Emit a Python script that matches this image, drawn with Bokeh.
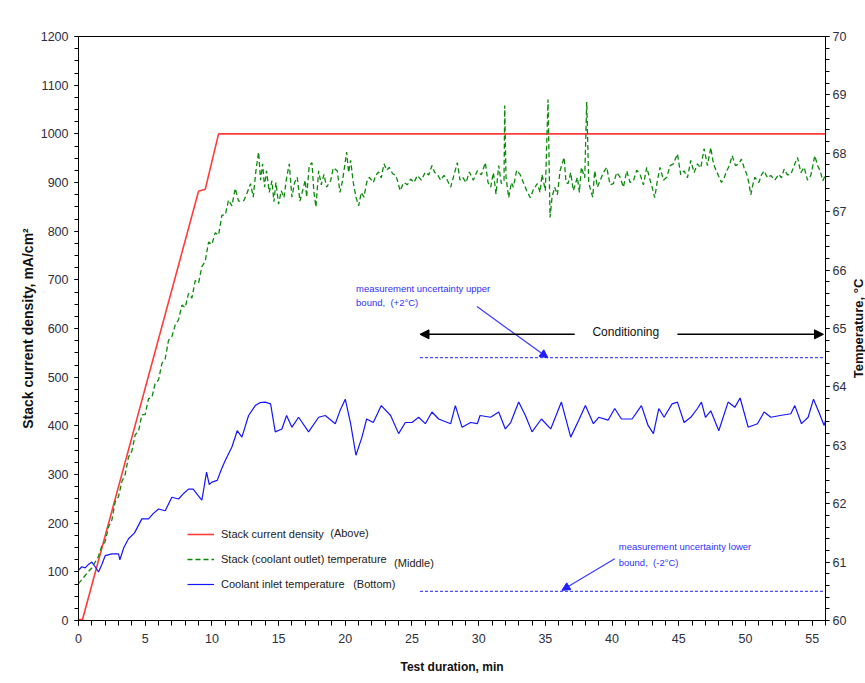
from bokeh.plotting import figure
from bokeh.layouts import row
from bokeh.models import (Range1d, LinearAxis, SingleIntervalTicker, FixedTicker, Label, Arrow,
                          NormalHead, Legend, LegendItem)
from bokeh.embed import file_html
from bokeh.resources import INLINE

SANS = "Liberation Sans"

# ---- data ----
# Stack current density (mA/cm2), left axis
current_t = [0, 0.3, 9.0, 9.5, 10.5, 56]
current_v = [2, 2, 882, 886, 1000, 1000]

# Stack (coolant outlet) temperature (degC), right axis
outlet_t = [0, 0.25, 0.5, 0.75, 1.0, 1.25, 1.5, 1.75, 2.0, 2.25, 2.5, 2.75, 3.0, 3.25, 3.5, 3.75,
            4.0, 4.25, 4.5, 4.75, 5.0, 5.25, 5.5, 5.75, 6.0, 6.25, 6.5, 6.75, 7.0, 7.25, 7.5, 7.75,
            8.0, 8.25, 8.5, 8.75, 9.0, 9.25, 9.5, 9.75, 10.0, 10.25, 10.5, 10.75, 11.0, 11.25, 11.5,
            11.75, 12.0,
            12.4, 12.65, 12.9, 13.1, 13.3, 13.5, 13.65, 13.8, 13.95, 14.1, 14.3, 14.5, 14.65, 14.8,
            15.0, 15.2, 15.4, 15.6, 15.8, 16.0, 16.2, 16.4, 16.6, 16.8, 17.0, 17.1, 17.3, 17.5,
            17.65, 17.8, 18.0, 18.2, 18.4, 18.6, 18.9, 19.1, 19.4, 19.6, 19.8, 20.1, 20.25, 20.4,
            20.6, 20.8, 21.0, 21.2, 21.4, 21.6, 21.8, 22.1, 22.3, 22.5, 22.7, 22.9, 23.1, 23.3,
            23.55, 23.8, 24.0, 24.1, 24.4, 24.65, 24.9, 25.15, 25.4, 25.7, 26.0, 26.25, 26.5, 26.7,
            26.9, 27.15, 27.4, 27.65, 27.9, 28.15, 28.4, 28.6, 28.8, 29.05, 29.3, 29.6, 29.9, 30.2,
            30.5, 30.7, 30.9, 31.1, 31.3, 31.5, 31.7, 31.9, 31.95, 32.05, 32.25, 32.45, 32.6, 32.85,
            33.1, 33.35, 33.6, 33.87, 34.1, 34.4, 34.6, 34.75, 35.0, 35.2, 35.35, 35.5, 35.7, 35.9,
            36.1, 36.4, 36.55, 36.7, 36.9, 37.1, 37.4, 37.55, 37.7, 37.95, 38.1, 38.25, 38.4, 38.55,
            38.7, 38.9, 39.1, 39.35, 39.6, 39.85, 40.1, 40.35, 40.6, 40.85, 41.1, 41.35, 41.6, 41.85,
            42.1, 42.35, 42.6, 42.85, 43.0, 43.2, 43.4, 43.6, 43.85, 44.1, 44.35, 44.6, 44.9, 45.15,
            45.4, 45.65, 45.9, 46.15, 46.4, 46.65, 46.9, 47.15, 47.4, 47.55, 47.7, 47.95, 48.2, 48.4,
            48.6, 48.8, 49.0, 49.25, 49.5, 49.7, 49.9, 50.1, 50.25, 50.4, 50.55, 50.7, 51.0, 51.2,
            51.4, 51.65, 51.9, 52.2, 52.5, 52.7, 52.9, 53.15, 53.4, 53.65, 53.9, 54.15, 54.4, 54.65,
            54.9, 55.2, 55.4, 55.6, 55.8, 56.0]
outlet_v = [60.63, 60.70, 60.77, 60.84, 60.90, 61.00, 61.10, 61.28, 61.35, 61.60, 61.72, 62.03,
            62.12, 62.38, 62.50, 62.80, 62.90, 63.18, 63.24, 63.52, 63.53, 63.80, 63.82, 64.06,
            64.12, 64.40, 64.48, 64.80, 64.86, 65.06, 65.15, 65.40, 65.36, 65.60, 65.52, 65.82,
            65.78, 66.06, 66.15, 66.48, 66.44, 66.64, 66.60, 66.94, 66.94, 67.20, 67.10, 67.40,
            67.18,
            67.19, 67.33, 67.48, 67.25, 67.70, 68.02, 67.54, 67.82, 67.42, 67.70, 67.33, 67.53,
            67.17, 67.50, 67.13, 67.36, 67.24, 67.58, 67.82, 67.25, 67.50, 67.59, 67.18, 67.36,
            67.54, 67.25, 67.79, 67.84, 67.33, 67.08, 67.70, 67.46, 67.64, 67.42, 67.53, 67.75,
            67.70, 67.33, 67.54, 68.02, 67.67, 67.88, 67.50, 67.25, 67.10, 67.33, 67.25, 67.50,
            67.59, 67.50, 67.63, 67.68, 67.58, 67.82, 67.71, 67.76, 67.65, 67.62, 67.46, 67.36,
            67.50, 67.46, 67.56, 67.50, 67.62, 67.54, 67.68, 67.63, 67.79, 67.67, 67.64, 67.54,
            67.62, 67.54, 67.42, 67.63, 67.84, 67.54, 67.59, 67.50, 67.68, 67.54, 67.70, 67.63,
            67.84, 67.50, 67.42, 67.67, 67.30, 67.79, 67.48, 67.54, 68.82, 67.59, 67.24, 67.50,
            67.42, 67.71, 67.64, 67.50, 67.36, 67.24, 67.38, 67.48, 67.33, 67.64, 67.36, 68.92,
            66.90, 67.25, 67.42, 67.29, 67.70, 67.93, 67.50, 67.48, 67.67, 67.36, 67.59, 67.33,
            67.76, 67.58, 68.88, 67.50, 67.36, 67.25, 67.70, 67.42, 67.53, 67.67, 67.76, 67.46,
            67.48, 67.67, 67.59, 67.42, 67.70, 67.50, 67.53, 67.71, 67.64, 67.46, 67.76, 67.54,
            67.42, 67.24, 67.54, 67.76, 67.54, 67.59, 67.79, 67.82, 67.99, 67.63, 67.70, 67.58,
            67.88, 67.67, 67.82, 67.75, 68.08, 67.79, 68.10, 67.88, 67.76, 67.63, 67.50, 67.58,
            67.70, 67.79, 67.96, 67.79, 67.82, 67.90, 67.75, 67.64, 67.50, 67.29, 67.46, 67.59,
            67.50, 67.63, 67.70, 67.58, 67.62, 67.54, 67.64, 67.58, 67.73, 67.63, 67.64, 67.79,
            67.93, 67.67, 67.76, 67.54, 67.62, 67.96, 67.79, 67.70, 67.53, 67.63]

# Coolant inlet temperature (degC), right axis
inlet_t = [0, 0.25, 0.5, 0.75, 1.0, 1.25, 1.5, 1.75, 2.0, 2.5, 3.0, 3.1, 3.4, 3.75, 4.2, 4.75,
           5.25, 5.6, 6.0, 6.5, 7.0, 7.5, 7.9, 8.25, 8.6, 9.0, 9.25, 9.6, 9.8, 10.0, 10.4, 10.7,
           11.0, 11.5, 11.9, 12.25, 12.75, 13.25, 13.6, 14.0, 14.4, 14.75, 15.25, 15.6, 16.0,
           16.5, 17.25, 18.0, 18.5, 19.25, 19.6, 20.0, 20.4, 20.8, 21.25, 21.6, 22.1, 22.7, 23.4,
           24.0, 24.5, 25.0, 25.5, 26.0, 26.5, 27.0, 27.9, 28.25, 28.75, 29.4, 29.9, 30.1, 30.9,
           31.5, 32.0, 32.4, 33.0, 33.5, 34.0, 34.7, 35.4, 36.2, 36.9, 37.5, 38.0, 38.6, 39.0,
           39.7, 40.2, 40.7, 41.5, 42.2, 42.7, 43.1, 43.5, 43.9, 44.5, 44.9, 45.4, 45.9, 46.4,
           46.7, 47.0, 47.4, 48.0, 48.7, 49.2, 49.6, 50.2, 50.9, 51.4, 51.9, 52.6, 53.4, 53.7,
           54.2, 54.7, 55.1, 55.5, 55.9, 56.0]
inlet_v = [60.86, 60.92, 60.90, 60.96, 61.00, 60.92, 60.83, 60.96, 61.11, 61.14, 61.14, 61.04,
           61.25, 61.40, 61.50, 61.74, 61.74, 61.83, 61.91, 61.88, 62.11, 62.08, 62.18, 62.25,
           62.25, 62.13, 62.06, 62.54, 62.33, 62.37, 62.40, 62.58, 62.74, 62.97, 63.25, 63.14,
           63.51, 63.68, 63.73, 63.74, 63.71, 63.23, 63.28, 63.51, 63.31, 63.48, 63.23, 63.48,
           63.51, 63.37, 63.59, 63.79, 63.37, 62.83, 63.14, 63.45, 63.39, 63.68, 63.51, 63.20,
           63.39, 63.39, 63.48, 63.37, 63.57, 63.45, 63.37, 63.68, 63.31, 63.39, 63.37, 63.51,
           63.48, 63.57, 63.28, 63.39, 63.74, 63.51, 63.23, 63.45, 63.28, 63.74, 63.14, 63.43,
           63.68, 63.37, 63.48, 63.43, 63.63, 63.45, 63.45, 63.68, 63.34, 63.20, 63.63, 63.48,
           63.71, 63.74, 63.39, 63.48, 63.63, 63.74, 63.48, 63.59, 63.25, 63.74, 63.65, 63.81,
           63.31, 63.37, 63.57, 63.48, 63.51, 63.54, 63.68, 63.37, 63.48, 63.79, 63.57, 63.34,
           63.42]

# measurement uncertainty bounds (degC) over the conditioning period
bound_t = [25.6, 56]
upper_bound = [64.5, 64.5]
lower_bound = [60.5, 60.5]

# ---- main figure ----
p = figure(width=849, height=683, x_range=Range1d(0, 56), y_range=Range1d(0, 1200),
           output_backend="svg", toolbar_location=None,
           min_border_left=78, min_border_right=23, min_border_top=36, min_border_bottom=63)
p.extra_y_ranges = {"temp": Range1d(60, 70)}
p.xgrid.visible = False
p.ygrid.visible = False
p.outline_line_color = "black"
p.outline_line_width = 1
p.background_fill_color = "white"
p.border_fill_color = "white"

TICK_COLOR = "#2e2e3e"

def style_axis(ax):
    ax.axis_line_color = "black"
    ax.major_tick_line_color = "black"
    ax.minor_tick_line_color = "black"
    ax.major_tick_in = 0
    ax.major_tick_out = 4
    ax.minor_tick_in = 0
    ax.minor_tick_out = 4
    ax.major_label_text_font = SANS
    ax.major_label_text_font_size = "12.5px"
    ax.major_label_text_color = TICK_COLOR

xax = p.xaxis[0]
xax.ticker = SingleIntervalTicker(interval=5, num_minor_ticks=5)
style_axis(xax)
xax.major_tick_out = 5
xax.minor_tick_out = 5
xax.major_label_standoff = 8
xax.axis_label = "Test duration, min"
xax.axis_label_text_font = SANS
xax.axis_label_text_font_style = "bold"
xax.axis_label_text_font_size = "12px"
xax.axis_label_text_color = "#111111"
xax.axis_label_standoff = 14

yax = p.yaxis[0]
yax.ticker = SingleIntervalTicker(interval=100, num_minor_ticks=4)
style_axis(yax)
yax.major_label_standoff = 6
yax.axis_label = "Stack current density, mA/cm\u00b2"
yax.axis_label_text_font = SANS
yax.axis_label_text_font_style = "bold"
yax.axis_label_text_font_size = "14px"
yax.axis_label_text_color = "#111111"
yax.axis_label_standoff = 2

rax = LinearAxis(y_range_name="temp", ticker=SingleIntervalTicker(interval=1, num_minor_ticks=5))
style_axis(rax)
rax.major_label_standoff = 3
p.add_layout(rax, "right")

# ---- series ----
r_red = p.line(current_t, current_v, line_color="#ff3c3c", line_width=1.6)
r_green = p.line(outlet_t, outlet_v, y_range_name="temp", line_color="#0a8a0a",
                 line_width=1.3, line_dash="5 3")
r_blue = p.line(inlet_t, inlet_v, y_range_name="temp", line_color="#1414ff", line_width=1.2)

p.line(bound_t, upper_bound, y_range_name="temp", line_color="#2020ff", line_width=1,
       line_dash="3 2")
p.line(bound_t, lower_bound, y_range_name="temp", line_color="#2020ff", line_width=1,
       line_dash="3 2")

# ---- legend ----
legend = Legend(items=[LegendItem(label="Stack current density", renderers=[r_red]),
                       LegendItem(label="Stack (coolant outlet) temperature", renderers=[r_green]),
                       LegendItem(label="Coolant inlet temperature", renderers=[r_blue])],
                location=(109, 27), orientation="vertical", glyph_width=27, glyph_height=18,
                label_height=18, label_standoff=7, spacing=7, padding=0, margin=0,
                border_line_alpha=0, background_fill_alpha=0,
                label_text_font=SANS, label_text_font_size="11px",
                label_text_color="#222222")
p.add_layout(legend)

for txt, x, y in [("(Above)", 18.87, 179), ("(Middle)", 23.66, 119), ("(Bottom)", 20.59, 74)]:
    p.add_layout(Label(x=x, y=y, text=txt, text_font=SANS, text_font_size="11px",
                       text_color="#222222", text_align="left", text_baseline="middle"))

# ---- annotations ----
BLUE_TXT = "#3030ff"
for txt, x, y in [("measurement uncertainty upper", 20.81, 682),
                  ("bound,\u00a0 (+2\u00b0C)", 20.81, 653),
                  ("measurement uncertainty lower", 40.5, 152),
                  ("bound,\u00a0 (-2\u00b0C)", 40.5, 120)]:
    p.add_layout(Label(x=x, y=y, text=txt, text_font=SANS, text_font_size="9.5px",
                       text_color=BLUE_TXT, text_align="left", text_baseline="middle"))

p.add_layout(Arrow(end=NormalHead(size=8, fill_color="#2020ff", line_color="#2020ff"),
                   x_start=29.87, y_start=645, x_end=35.19, y_end=540,
                   line_color="#3a3aff", line_width=1.2))
p.add_layout(Arrow(end=NormalHead(size=8, fill_color="#2020ff", line_color="#2020ff"),
                   x_start=40.2, y_start=127, x_end=36.24, y_end=62,
                   line_color="#3a3aff", line_width=1.2))

# Conditioning double arrow
p.add_layout(Arrow(end=NormalHead(size=9, fill_color="black", line_color="black"),
                   x_start=37.2, y_start=588, x_end=25.6, y_end=588,
                   line_color="black", line_width=1.5))
p.add_layout(Arrow(end=NormalHead(size=9, fill_color="black", line_color="black"),
                   x_start=44.9, y_start=588, x_end=55.85, y_end=588,
                   line_color="black", line_width=1.5))
p.add_layout(Label(x=41.03, y=592, text="Conditioning", text_font=SANS,
                   text_font_size="12px", text_color="#111111", text_align="center",
                   text_baseline="middle"))

# ---- narrow strip carrying the right-hand axis title (reads bottom-to-top) ----
p2 = figure(width=16, height=683, x_range=Range1d(0, 1), y_range=Range1d(60, 70),
            output_backend="svg", toolbar_location=None,
            min_border_left=15, min_border_right=0, min_border_top=36, min_border_bottom=63)
p2.xaxis.visible = False
p2.xgrid.visible = False
p2.ygrid.visible = False
p2.outline_line_color = None
p2.background_fill_color = "white"
p2.border_fill_color = "white"
ty = p2.yaxis[0]
ty.ticker = FixedTicker(ticks=[])
ty.axis_line_color = None
ty.major_tick_out = 0
ty.minor_tick_out = 0
ty.major_label_standoff = 0
ty.axis_label = "Temperature, \u00b0C"
ty.axis_label_text_font = SANS
ty.axis_label_text_font_style = "bold"
ty.axis_label_text_font_size = "13px"
ty.axis_label_text_color = "#111111"
ty.axis_label_standoff = 0

layout = row(p, p2, spacing=0)

open("out.html", "w").write(file_html(layout, INLINE))
